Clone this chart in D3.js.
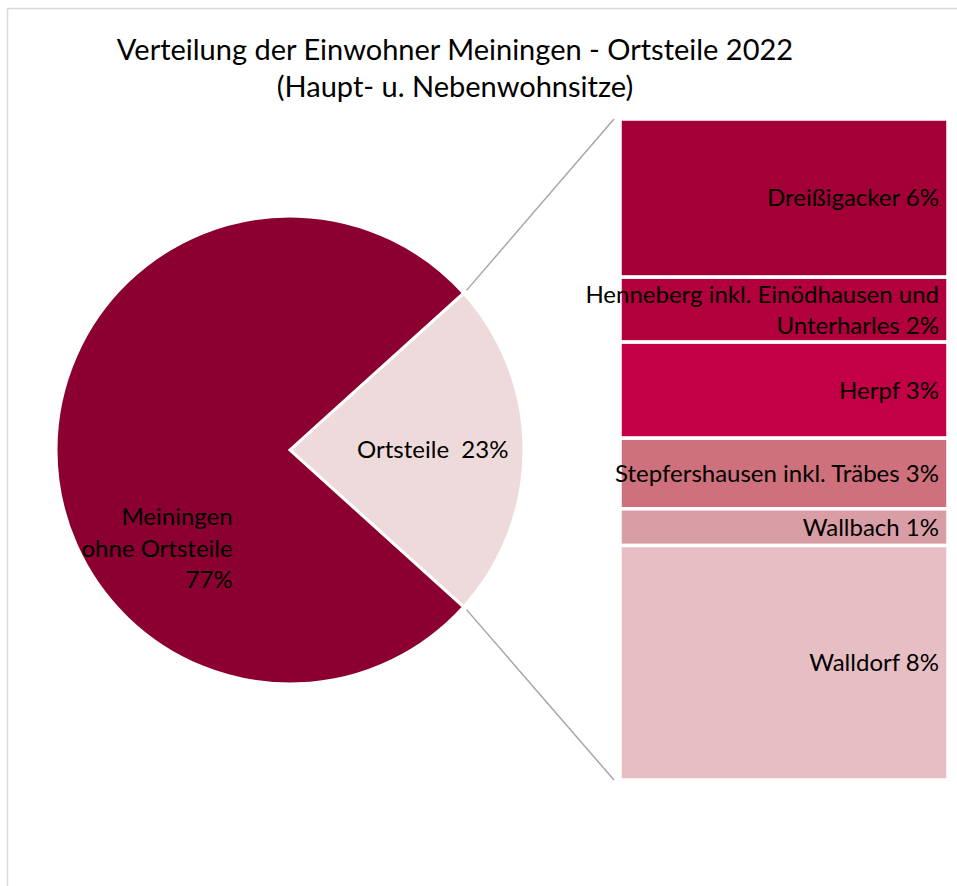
<!DOCTYPE html>
<html>
<head>
<meta charset="utf-8">
<script src="https://cdn.jsdelivr.net/npm/d3@7"></script>
<style>
  body { margin: 0; background: #fff; }
  text { font-family: Lato, "Open Sans", sans-serif; fill: #000; }
</style>
</head>
<body>
<div id="wrapper"></div>
<script>
// Daten (Anteile in %)
const titleLines = ["Verteilung der Einwohner Meiningen - Ortsteile 2022", "(Haupt- u. Nebenwohnsitze)"];

const pieNames = ["Ortsteile", "Meiningen ohne Ortsteile"];
const pieValues = [23.4, 76.6];
const pieColors = ["#efdadb", "#8b0030"];

const partNames = ["Dreißigacker", "Henneberg inkl. Einödhausen und Unterharles", "Herpf",
  "Stepfershausen inkl. Träbes", "Wallbach", "Walldorf"];
const partValues = [5.6, 2.3, 3.4, 2.5, 1.3, 8.3];
const partColors = ["#a30037", "#b2003c", "#c30045", "#cf717c", "#d99ea5", "#e6bec3"];

const width = 957;
const height = 886;
const labelSize = 24;

const svg = d3.select("#wrapper")
  .append("svg")
  .attr("width", width)
  .attr("height", height);

// Rahmen der Grafik (laeuft rechts und unten aus dem Bild)
svg.append("rect")
  .attr("x", 7.5).attr("y", 8.5)
  .attr("width", 1000).attr("height", 1000)
  .attr("fill", "none")
  .attr("stroke", "#d9d9d9")
  .attr("stroke-width", 1.5);

// Titel
svg.append("g")
  .selectAll("text")
  .data(titleLines)
  .join("text")
    .attr("x", 455)
    .attr("y", (d, i) => 60 + i * 37)
    .attr("text-anchor", "middle")
    .attr("font-size", 29)
    .text(d => d);

// Kreis
const cx = 290, cy = 450, r = 234;
const total = d3.sum(pieValues);
const span = 2 * Math.PI * pieValues[0] / total;
const start = Math.PI / 2 - span / 2;

const pie = d3.pie()
  .sort(null)
  .startAngle(start)
  .endAngle(start + 2 * Math.PI);

const arcs = pie(pieValues);
const arc = d3.arc().innerRadius(0).outerRadius(r);

const gPie = svg.append("g").attr("transform", `translate(${cx},${cy})`);

gPie.selectAll("path")
  .data(arcs)
  .join("path")
    .attr("d", arc)
    .attr("fill", (d, i) => pieColors[i])
    .attr("stroke", "#fff")
    .attr("stroke-width", 3)
    .attr("stroke-linejoin", "miter");

const pct = v => Math.round(v / total * 100) + "%";

// Beschriftung Ortsteile
const a0 = arcs[0];
const labArc0 = d3.arc().innerRadius(r * 0.61).outerRadius(r * 0.61);
const p0 = labArc0.centroid(a0);
gPie.append("text")
  .attr("x", p0[0]).attr("y", p0[1])
  .attr("dy", "0.35em")
  .attr("text-anchor", "middle")
  .attr("font-size", labelSize)
  .attr("xml:space", "preserve")
  .text(pieNames[0] + "  " + pct(pieValues[0]));

// Beschriftung Meiningen
const mainLines = ["Meiningen", "ohne Ortsteile", pct(pieValues[1])];
gPie.append("text")
  .attr("text-anchor", "end")
  .attr("font-size", labelSize)
  .selectAll("tspan")
  .data(mainLines)
  .join("tspan")
    .attr("x", -r * 0.245)
    .attr("y", (d, i) => r * 0.285 + i * 31.5)
    .attr("dy", "0.35em")
    .text(d => d);

// Balken
const barX = 620, barW = 328, barTop = 119, barBottom = 780;
const sumParts = d3.sum(partValues);
const y = d3.scaleLinear()
  .domain([0, sumParts])
  .range([barTop, barBottom]);

const cum = d3.cumsum(partValues);
const parts = partValues.map((v, i) => ({
  name: partNames[i], value: v, y0: cum[i] - v, y1: cum[i]
}));

const gBar = svg.append("g");
gBar.selectAll("rect")
  .data(parts)
  .join("rect")
    .attr("x", barX)
    .attr("y", d => y(d.y0))
    .attr("width", barW)
    .attr("height", d => y(d.y1) - y(d.y0))
    .attr("fill", (d, i) => partColors[i])
    .attr("stroke", "#fff")
    .attr("stroke-width", 3.5);

// Beschriftung Balken
const wrapLines = {
  "Henneberg inkl. Einödhausen und Unterharles": ["Henneberg inkl. Einödhausen und", "Unterharles"]
};
gBar.selectAll("text")
  .data(parts)
  .join("text")
    .attr("text-anchor", "end")
    .attr("font-size", labelSize)
    .each(function (d) {
      const lines = (wrapLines[d.name] || [d.name]).slice();
      lines[lines.length - 1] += " " + pct(d.value);
      const mid = (y(d.y0) + y(d.y1)) / 2;
      d3.select(this).selectAll("tspan")
        .data(lines)
        .join("tspan")
          .attr("x", barX + barW - 9)
          .attr("y", (l, i) => mid + (i - (lines.length - 1) / 2) * 31)
          .attr("dy", "0.35em")
          .text(l => l);
    });

// Verbindungslinien
const edge = (ang, rr) => [cx + rr * Math.sin(ang), cy - rr * Math.cos(ang)];
const e1 = edge(a0.startAngle, r + 4);
const e2 = edge(a0.endAngle, r + 4);
svg.append("g")
  .selectAll("line")
  .data([[e1, [barX - 6, y(0)]], [e2, [barX - 6, y(sumParts)]]])
  .join("line")
    .attr("x1", d => d[0][0]).attr("y1", d => d[0][1])
    .attr("x2", d => d[1][0]).attr("y2", d => d[1][1])
    .attr("stroke", "#a6a6a6")
    .attr("stroke-width", 1.5);
</script>
</body>
</html>
